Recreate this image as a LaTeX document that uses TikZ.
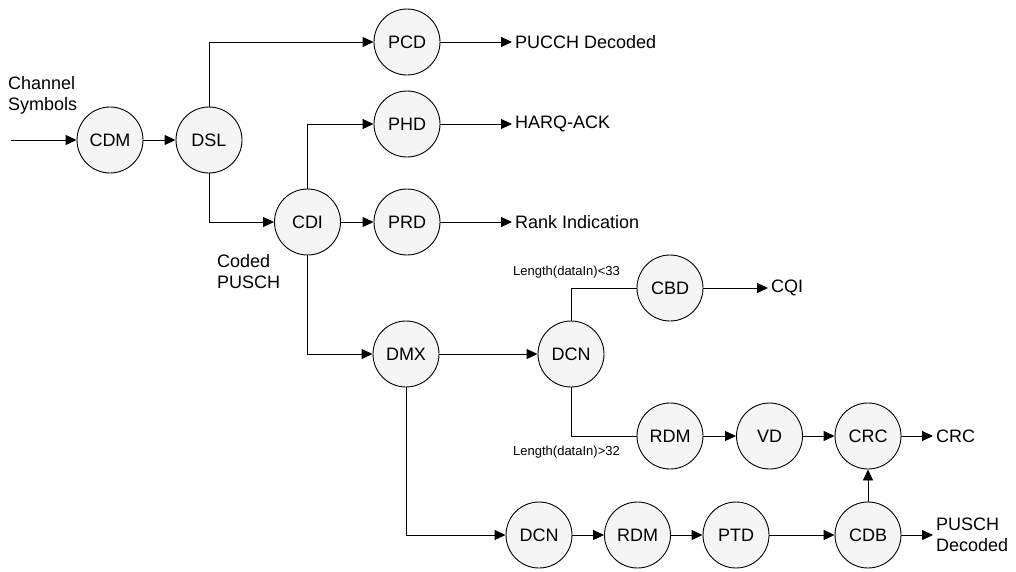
\documentclass[tikz,border=0pt]{standalone}
\usepackage{fontspec}
\setmainfont{Liberation Sans}
\usetikzlibrary{arrows.meta}
\begin{document}
\begin{tikzpicture}[x=1pt,y=-1pt,
  blk/.style={circle,draw=black,fill=black!4,line width=0.9pt,minimum size=66pt,inner sep=0pt,font=\fontsize{18}{21}\selectfont},
  lbl/.style={inner sep=3pt,font=\fontsize{18}{21}\selectfont,align=left},
  small/.style={inner sep=0pt,font=\fontsize{13}{15}\selectfont},
  arr/.style={draw=black,line width=0.9pt,-{Triangle[length=11pt,width=10pt]}},
  ln/.style={draw=black,line width=0.9pt}]
\useasboundingbox (0,0) rectangle (1016,571);
% nodes
\node[blk] (cdm) at (110,140) {CDM};
\node[blk] (dsl) at (209,140) {DSL};
\node[blk] (pcd) at (407,42) {PCD};
\node[blk] (phd) at (407,124) {PHD};
\node[blk] (cdi) at (307.5,222) {CDI};
\node[blk] (prd) at (407,222) {PRD};
\node[blk] (dmx) at (406,354) {DMX};
\node[blk] (dcna) at (571,354) {DCN};
\node[blk] (cbd) at (670,288) {CBD};
\node[blk] (rdma) at (670,436) {RDM};
\node[blk] (vd) at (769.5,436) {VD};
\node[blk] (crc) at (868,436) {CRC};
\node[blk] (dcnb) at (539,535) {DCN};
\node[blk] (rdmb) at (637.5,535) {RDM};
\node[blk] (ptd) at (736,535) {PTD};
\node[blk] (cdb) at (868,535) {CDB};
% text labels
\coordinate (in) at (11,140);
\node[lbl,anchor=north west,inner sep=0pt] (chs) at (8,76) {Channel\\Symbols};
\node[lbl,anchor=north west,inner sep=0pt] (cpu) at (217,254) {Coded\\PUSCH};
\node[lbl,anchor=west] (opcd) at (512,42) {PUCCH Decoded};
\node[lbl,anchor=west] (ophd) at (512,124) {HARQ-ACK};
\node[lbl,anchor=west] (oprd) at (512,222) {Rank Indication};
\node[lbl,anchor=west] (ocqi) at (768,288) {CQI};
\node[lbl,anchor=west] (ocrc) at (933,436) {CRC};
\node[lbl,anchor=west] (opus) at (933,535) {PUSCH\\Decoded};
\node[small,anchor=west] (la) at (513,272) {Length(dataIn)<33};
\node[small,anchor=west] (lb) at (513,452) {Length(dataIn)>32};
% connectors
\draw[arr] (in) -- (cdm);
\draw[arr] (cdm) -- (dsl);
\draw[arr] (dsl.north) |- (pcd.west);
\draw[arr] (dsl.south) |- (cdi.west);
\draw[arr] (cdi.north) |- (phd.west);
\draw[arr] (cdi) -- (prd);
\draw[arr] (cdi.south) |- (dmx.west);
\draw[arr] (dmx) -- (dcna);
\draw[ln] (dcna.north) |- (cbd.west);
\draw[ln] (dcna.south) |- (rdma.west);
\draw[arr] (rdma) -- (vd);
\draw[arr] (vd) -- (crc);
\draw[arr] (dmx.south) |- (dcnb.west);
\draw[arr] (dcnb) -- (rdmb);
\draw[arr] (rdmb) -- (ptd);
\draw[arr] (ptd) -- (cdb);
\draw[arr] (cdb) -- (crc);
\draw[arr] (pcd) -- (opcd.west);
\draw[arr] (phd) -- (ophd.west);
\draw[arr] (prd) -- (oprd.west);
\draw[arr] (cbd) -- (ocqi.west);
\draw[arr] (crc) -- (ocrc.west);
\draw[arr] (cdb) -- (opus.west);
\end{tikzpicture}
\end{document}
